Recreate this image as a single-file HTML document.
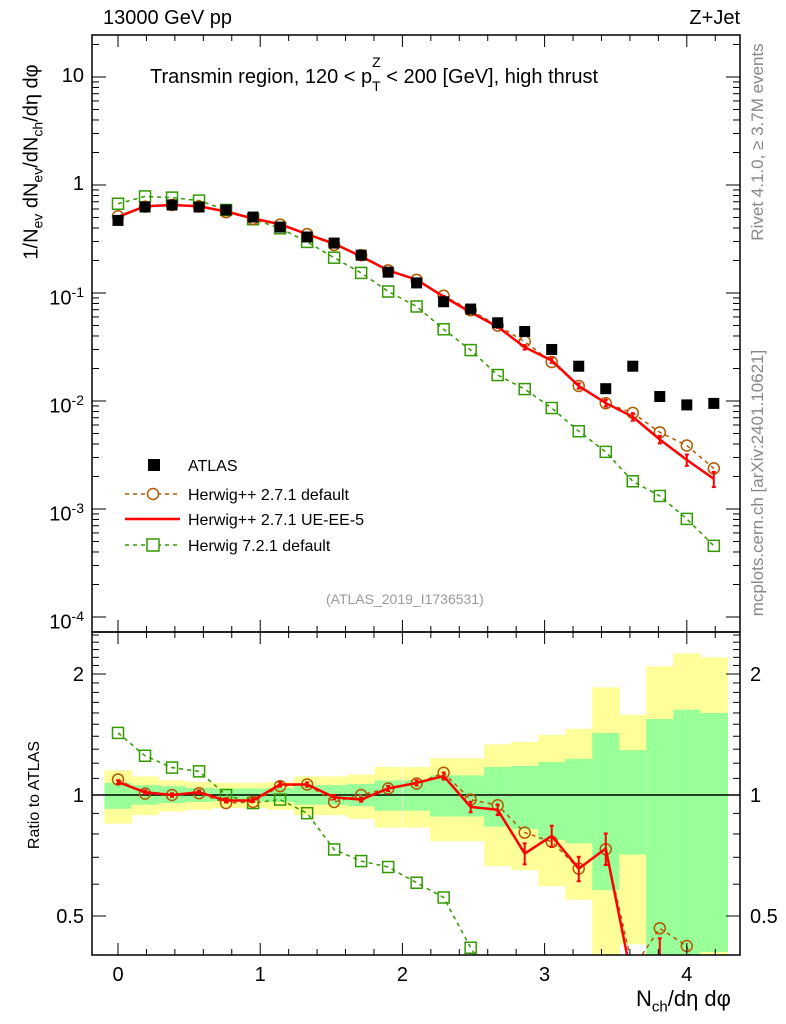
<!DOCTYPE html>
<html><head><meta charset="utf-8">
<style>
html,body{margin:0;background:#fff;width:786px;height:1024px;overflow:hidden;}
svg{display:block;font-family:"Liberation Sans",sans-serif;}
.rot{position:absolute;transform:translate(-50%,-50%) rotate(-90deg);white-space:nowrap;}
</style></head>
<body>
<svg id="c" width="786" height="1024" viewBox="0 0 786 1024" xmlns="http://www.w3.org/2000/svg"></svg>
<script>
const xVals=[0,0.19,0.38,0.57,0.76,0.95,1.14,1.33,1.52,1.71,1.90,2.10,2.29,2.48,2.67,2.86,3.05,3.24,3.43,3.62,3.81,4.00,4.19];
const atlas=[0.47,0.626,0.653,0.626,0.587,0.505,0.408,0.330,0.290,0.224,0.156,0.124,0.083,0.071,0.053,0.044,0.030,0.021,0.013,0.021,0.011,0.0092,0.0095];
const ratioDefault=[1.093,1.008,1.0,1.01,0.955,0.961,1.052,1.062,0.961,1.0,1.038,1.068,1.136,0.974,0.943,0.806,0.765,0.656,0.733,0.37,0.466,0.421,0.25];
const ratioUE=[1.077,1.016,1.0,1.016,0.968,0.970,1.062,1.062,0.987,0.974,1.038,1.072,1.115,0.934,0.919,0.715,0.791,0.656,0.736,0.34,0.40,0.31,0.20];
const ratio721=[1.427,1.252,1.170,1.145,1.0,0.955,0.974,0.901,0.732,0.685,0.662,0.605,0.556,0.417,0.328,0.293,0.287,0.25,0.26,0.086,0.12,0.088,0.048];
const errUE=[0.01,0.01,0.01,0.01,0.01,0.01,0.012,0.012,0.012,0.012,0.015,0.015,0.02,0.03,0.03,0.06,0.06,0.07,0.09,0.1,0.1,0.15,0.2];
const bandYelHi=[1.152,1.112,1.087,1.077,1.072,1.072,1.077,1.112,1.112,1.125,1.174,1.174,1.235,1.235,1.336,1.355,1.41,1.461,1.852,1.583,2.09,2.25,2.2];
const bandYelLo=[0.849,0.891,0.910,0.919,0.928,0.928,0.919,0.891,0.891,0.872,0.830,0.830,0.768,0.768,0.666,0.650,0.594,0.549,0.3,0.425,0.3,0.3,0.3];
const bandGrnHi=[1.072,1.058,1.052,1.042,1.038,1.038,1.042,1.058,1.058,1.066,1.087,1.087,1.119,1.119,1.174,1.181,1.207,1.23,1.427,1.293,1.545,1.63,1.60];
const bandGrnLo=[0.924,0.946,0.955,0.961,0.965,0.965,0.961,0.946,0.946,0.937,0.914,0.914,0.884,0.884,0.834,0.822,0.773,0.758,0.58,0.711,0.3,0.3,0.407];
const yMainTicks=[10,1,0.1,0.01,0.001,0.0001];
const yMainLabels=["10","1","10<sup>-1</sup>","10<sup>-2</sup>","10<sup>-3</sup>","10<sup>-4</sup>"];
const xTicks=[0,1,2,3,4];
const rTicks=[0.5,1,2];

const NS="http://www.w3.org/2000/svg";
const svg=document.getElementById('c');
const L=92,R=740,T=35,MB=632,RB=955;
const X=v=>118+142.2*v;
const Ym=v=>185-108*Math.log10(v);
const Yr=v=>795-402*Math.log10(v);
const bw=0.1905;
function el(tag,attrs,parent){const e=document.createElementNS(NS,tag);for(const k in attrs)e.setAttribute(k,attrs[k]);(parent||svg).appendChild(e);return e;}
const defs=el('defs',{});
function clip(id,y0,y1){const cp=el('clipPath',{id:id},defs);el('rect',{x:L,y:y0,width:R-L,height:y1-y0},cp);}
clip('cm',T,MB);clip('cr',MB,RB);

const gR=el('g',{'clip-path':'url(#cr)'});


for(let i=0;i<xVals.length;i++){
  const x0=X(xVals[i]-bw/2),x1=X(xVals[i]+bw/2);
  const y=el('rect',{x:x0,y:Yr(bandYelHi[i]),width:x1-x0+0.6,height:Yr(bandYelLo[i])-Yr(bandYelHi[i]),fill:'#ffff99'},gR);
  
  
  const g=el('rect',{x:x0,y:Yr(bandGrnHi[i]),width:x1-x0+0.6,height:Yr(bandGrnLo[i])-Yr(bandGrnHi[i]),fill:'#99ff99'},gR);
  
  
}
el('line',{x1:L,x2:R,y1:Yr(1),y2:Yr(1),stroke:'#000','stroke-width':1.5},gR);

function series(g,Yf,vals,color,dash,marker,width,errs,name){
  const pts=xVals.map((x,i)=>[X(x),Yf(vals[i])]);
  const pl=el('polyline',{points:pts.map(p=>p.join(',')).join(' '),fill:'none',stroke:color,'stroke-width':width,'stroke-dasharray':dash||'none'},g);
  
  
  pts.forEach((p,i)=>{
    if(errs){const e=errs[i];const ya=Yf(vals[i]*(1+e)),yb=Yf(vals[i]*(1-e));
      el('line',{x1:p[0],x2:p[0],y1:ya,y2:yb,stroke:color,'stroke-width':2},g);
      el('line',{x1:p[0]-2,x2:p[0]+2,y1:ya,y2:ya,stroke:color,'stroke-width':2},g);
      el('line',{x1:p[0]-2,x2:p[0]+2,y1:yb,y2:yb,stroke:color,'stroke-width':2},g);}
    if(marker==='circle'){const m=el('circle',{cx:p[0],cy:p[1],r:5.5,fill:'none',stroke:color,'stroke-width':1.5},g);
      }
    if(marker==='square'){const m=el('rect',{x:p[0]-5.5,y:p[1]-5.5,width:11,height:11,fill:'none',stroke:color,'stroke-width':1.5},g);
      }
  });
}
series(gR,Yr,ratio721,'#339900','4,4','square',1.5,null,'ratio-herwig721');
series(gR,Yr,ratioDefault,'#b35900','4,4','circle',1.5,null,'ratio-herwigpp-default');
series(gR,Yr,ratioUE,'#ff0000',null,null,2.5,errUE,'ratio-herwigpp-ueee5');

const gM=el('g',{'clip-path':'url(#cm)'});


series(gM,Ym,atlas.map((a,i)=>a*ratio721[i]),'#339900','4,4','square',1.5,null,'herwig721');
series(gM,Ym,atlas.map((a,i)=>a*ratioDefault[i]),'#b35900','4,4','circle',1.5,null,'herwigpp-default');
series(gM,Ym,atlas.map((a,i)=>a*ratioUE[i]),'#ff0000',null,null,2.5,errUE.map(e=>e*0.8),'herwigpp-ueee5');
atlas.forEach((a,i)=>{const s=el('rect',{x:X(xVals[i])-5.5,y:Ym(a)-5.5,width:11,height:11,fill:'#000'},gM);
  });

el('rect',{x:L,y:T,width:R-L,height:MB-T,fill:'none',stroke:'#000','stroke-width':1.5});
el('rect',{x:L,y:MB,width:R-L,height:RB-MB,fill:'none',stroke:'#000','stroke-width':1.5});

for(let v=-0.2;v<=4.4;v+=0.2){const vv=Math.round(v*10)/10;const x=X(vv);if(x<L||x>R)continue;
  const maj=Math.abs(vv-Math.round(vv))<1e-6;const len=maj?12:6;
  [[T,T+len],[MB,MB-len],[MB,MB+len],[RB,RB-len]].forEach(([a,b])=>el('line',{x1:x,x2:x,y1:a,y2:b,stroke:'#000','stroke-width':1}));}
xTicks.forEach(v=>{const t=el('text',{x:X(v),y:981,'font-size':20,'text-anchor':'middle'});t.textContent=v;
  });

for(let d=-4;d<=1;d++){for(let m=1;m<10;m++){const v=m*Math.pow(10,d);const y=Ym(v);if(y<T||y>MB)continue;
  const len=m===1?14:7;el('line',{x1:L,x2:L+len,y1:y,y2:y,stroke:'#000'});el('line',{x1:R,x2:R-len,y1:y,y2:y,stroke:'#000'});}}
yMainTicks.forEach((v,i)=>{const fo=el('foreignObject',{x:20,y:Ym(v)-16,width:64,height:30});
  const dv=document.createElement('div');dv.style.cssText='font:20px "Liberation Sans",sans-serif;text-align:right;line-height:30px';
  dv.innerHTML=yMainLabels[i].replace('<sup>','<sup style="font-size:14px">');fo.appendChild(dv);
  });

for(let v=0.4;v<=2.55;v+=0.1){const vv=Math.round(v*10)/10;const y=Yr(vv);if(y<MB||y>RB)continue;
  const len=[0.5,1,2].includes(vv)?14:7;el('line',{x1:L,x2:L+len,y1:y,y2:y,stroke:'#000'});el('line',{x1:R,x2:R-len,y1:y,y2:y,stroke:'#000'});}
rTicks.forEach(v=>{[[84,'end'],[750,'start']].forEach(([x,a])=>{const t=el('text',{x:x,y:Yr(v)+7,'font-size':20,'text-anchor':a});t.textContent=v;
  });});

const lg=el('g',{});


el('rect',{x:148,y:459,width:12,height:12,fill:'#000'},lg);
el('line',{x1:125,x2:180,y1:494,y2:494,stroke:'#b35900','stroke-width':1.5,'stroke-dasharray':'4,4'},lg);
el('circle',{cx:153,cy:494,r:5.5,fill:'#fff',stroke:'#b35900','stroke-width':1.5},lg);
el('line',{x1:125,x2:180,y1:519,y2:519,stroke:'#ff0000','stroke-width':2.5},lg);
el('line',{x1:125,x2:180,y1:545,y2:545,stroke:'#339900','stroke-width':1.5,'stroke-dasharray':'4,4'},lg);
el('rect',{x:147,y:539,width:12,height:12,fill:'#fff',stroke:'#339900','stroke-width':1.5},lg);
[['ATLAS',471],['Herwig++ 2.7.1 default',500],['Herwig++ 2.7.1 UE-EE-5',525],['Herwig 7.2.1 default',551]].forEach(([s,y])=>{
  const t=el('text',{x:188,y:y,'font-size':16},lg);t.textContent=s;});
</script>
<div style="position:absolute;left:0;top:0;width:786px;height:1024px;overflow:hidden;pointer-events:none;font-family:'Liberation Sans',sans-serif;">
<div style="position:absolute;left:103px;top:7px;font-size:20px;">13000 GeV pp</div>
<div style="position:absolute;right:46px;top:7px;font-size:20px;">Z+Jet</div>
<div style="position:absolute;left:150px;top:66px;font-size:20px;white-space:nowrap;">Transmin region, 120 &lt; p<span style="position:relative;"><sub style="font-size:14px;position:relative;top:3px;">T</sub><sup style="font-size:14px;position:absolute;left:0;top:-12px;">Z</sup></span> &lt; 200 [GeV], high thrust</div>
<div style="position:absolute;left:326px;top:591px;font-size:14px;color:#999;">(ATLAS_2019_I1736531)</div>
<div class="rot" style="left:33px;top:162px;font-size:20px;">1/N<sub style="font-size:14px">ev</sub> dN<sub style="font-size:14px">ev</sub>/dN<sub style="font-size:14px">ch</sub>/dη dφ</div>
<div class="rot" style="left:35px;top:795px;font-size:16px;">Ratio to ATLAS</div>
<div style="position:absolute;left:636px;top:986px;font-size:22px;white-space:nowrap;">N<sub style="font-size:15px">ch</sub>/dη dφ</div>
<div class="rot" style="left:758px;top:142px;font-size:17px;color:#888;">Rivet 4.1.0, ≥ 3.7M events</div>
<div class="rot" style="left:758px;top:483px;font-size:17px;color:#888;">mcplots.cern.ch [arXiv:2401.10621]</div>
</div>
</body></html>
